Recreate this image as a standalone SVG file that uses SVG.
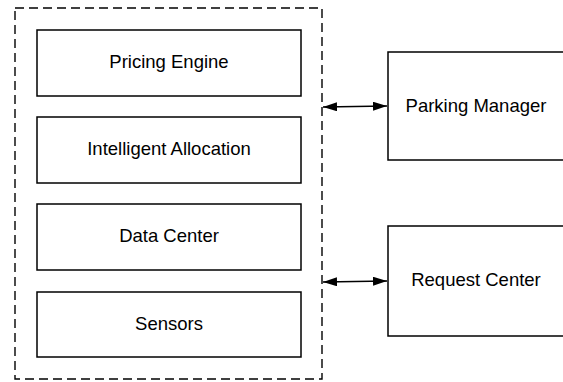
<svg xmlns="http://www.w3.org/2000/svg" width="563" height="382" viewBox="0 0 563 382">
  <style>
    .box { fill: #ffffff; stroke: #000000; stroke-width: 1.5; }
    .frame { fill: none; stroke: #000000; stroke-width: 1.4; stroke-dasharray: 9 5; }
    .label { font-family: "Liberation Sans", Arial, sans-serif; font-size: 18.5px; fill: #000000; text-anchor: middle; }
    .link { stroke: #000000; stroke-width: 1.5; fill: none; }
  </style>
  <defs>
    <marker id="head" viewBox="0 0 14 9" refX="14" refY="4.5" markerWidth="14" markerHeight="9" markerUnits="userSpaceOnUse" orient="auto-start-reverse">
      <path d="M0,0 L14,4.5 L0,9 Z" fill="#000000"/>
    </marker>
  </defs>
  <rect width="563" height="382" fill="#ffffff"/>

  <!-- platform boundary -->
  <rect id="platform" class="frame" x="15" y="8" width="307" height="371"/>

  <g id="pricing-engine">
    <rect class="box" x="37" y="30" width="264" height="66"/>
    <text class="label" x="169" y="68">Pricing Engine</text>
  </g>
  <g id="intelligent-allocation">
    <rect class="box" x="37" y="117" width="264" height="66"/>
    <text class="label" x="169" y="155">Intelligent Allocation</text>
  </g>
  <g id="data-center">
    <rect class="box" x="37" y="204" width="264" height="66"/>
    <text class="label" x="169" y="242">Data Center</text>
  </g>
  <g id="sensors">
    <rect class="box" x="37" y="292" width="264" height="65"/>
    <text class="label" x="169" y="330">Sensors</text>
  </g>

  <g id="parking-manager">
    <rect class="box" x="388" y="52" width="178" height="108"/>
    <text class="label" x="476" y="112">Parking Manager</text>
  </g>
  <g id="request-center">
    <rect class="box" x="388" y="226" width="178" height="110"/>
    <text class="label" x="476" y="286">Request Center</text>
  </g>

  <g id="connectors">
    <line class="link" x1="323" y1="107" x2="387" y2="106" marker-start="url(#head)" marker-end="url(#head)"/>
    <line class="link" x1="323" y1="282" x2="387" y2="281" marker-start="url(#head)" marker-end="url(#head)"/>
  </g>
</svg>
